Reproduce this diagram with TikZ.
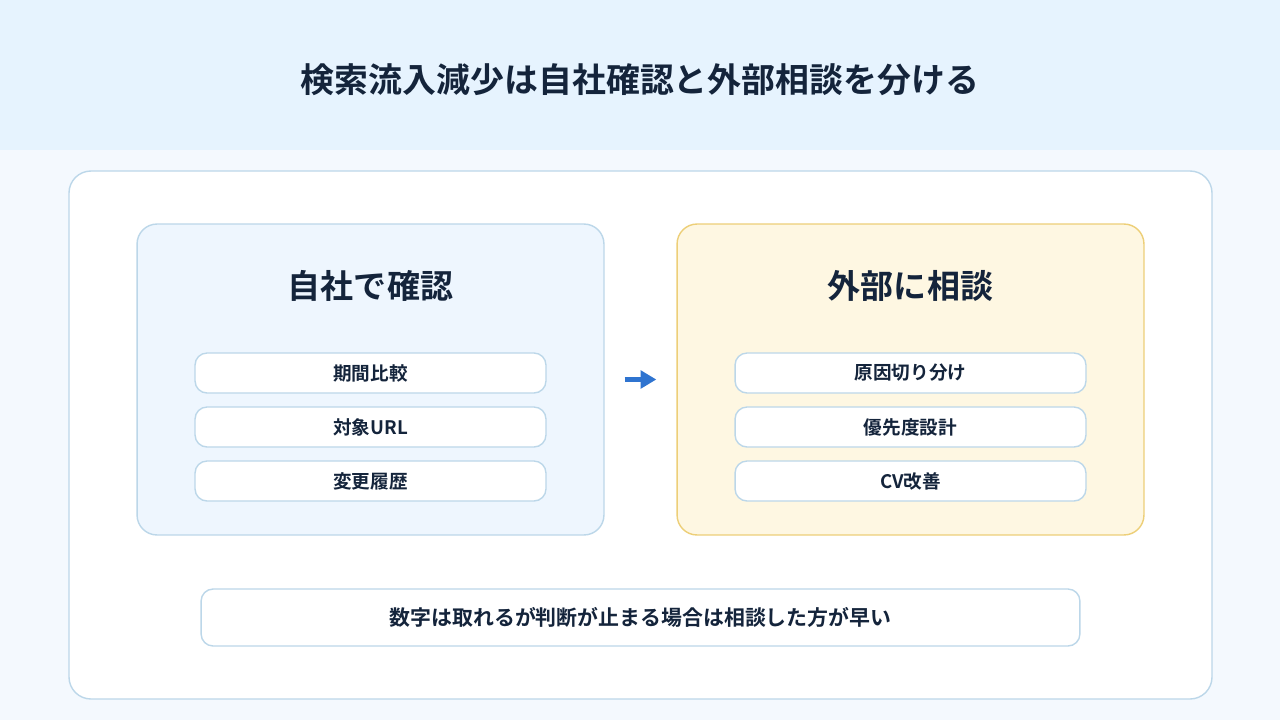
\documentclass[tikz,border=0pt]{standalone}
\usepackage{fontspec}
\setmainfont{Noto Sans CJK JP}[BoldFont={* Bold}]
\usetikzlibrary{arrows.meta}
\definecolor{ink}{HTML}{14243B}
\definecolor{band}{HTML}{E6F3FE}
\definecolor{page}{HTML}{F4F9FE}
\definecolor{rim}{HTML}{BCD7E9}
\definecolor{lfill}{HTML}{EEF6FE}
\definecolor{rfill}{HTML}{FEF7E2}
\definecolor{rrim}{HTML}{EDCF78}
\definecolor{flowblue}{HTML}{2F74D0}
\tikzset{
  panel/.style={draw=rim, line width=0.8pt, rounded corners=0.4cm, minimum width=9.34cm, minimum height=6.22cm},
  item/.style={draw=rim, fill=white, line width=0.8pt, rounded corners=0.24cm, minimum width=7.02cm, minimum height=0.8cm, font=\fontsize{10.6}{12}\selectfont\bfseries, text=ink},
  head/.style={font=\fontsize{18.8}{22}\selectfont\bfseries, text=ink},
}
\begin{document}
\begin{tikzpicture}[x=0.02cm,y=-0.02cm]
\fill[page] (0,0) rectangle (1280,720);
\fill[band] (0,0) rectangle (1280,150);
\node[font=\fontsize{19.3}{22}\selectfont\bfseries, text=ink] (title) at (640,80) {検索流入減少は自社確認と外部相談を分ける};
\draw[rim, fill=white, line width=0.8pt, rounded corners=0.44cm] (69,171) rectangle (1212,699);
% panels
\node[panel, fill=lfill] (lp) at (370.5,379.5) {};
\node[panel, fill=rfill, draw=rrim] (rp) at (910.5,379.5) {};
\node[head] (lt) at (370.5,286) {自社で確認};
\node[head] (rt) at (910.5,286) {外部に相談};
\node[item] (l1) at (370.5,373) {期間比較};
\node[item] (l2) at (370.5,427) {対象URL};
\node[item] (l3) at (370.5,481) {変更履歴};
\node[item] (r1) at (910.5,373) {原因切り分け};
\node[item] (r2) at (910.5,427) {優先度設計};
\node[item] (r3) at (910.5,481) {CV改善};
\draw[flowblue, line width=2.8pt, -{Triangle[length=9pt,width=10pt]}, shorten <=0.4cm, shorten >=0.4cm] (lp.east) -- (rp.west);
% note
\node[item, minimum width=17.58cm, minimum height=1.14cm, font=\fontsize{11.9}{14}\selectfont\bfseries] (note) at (640.5,617.5) {数字は取れるが判断が止まる場合は相談した方が早い};
\end{tikzpicture}
\end{document}
